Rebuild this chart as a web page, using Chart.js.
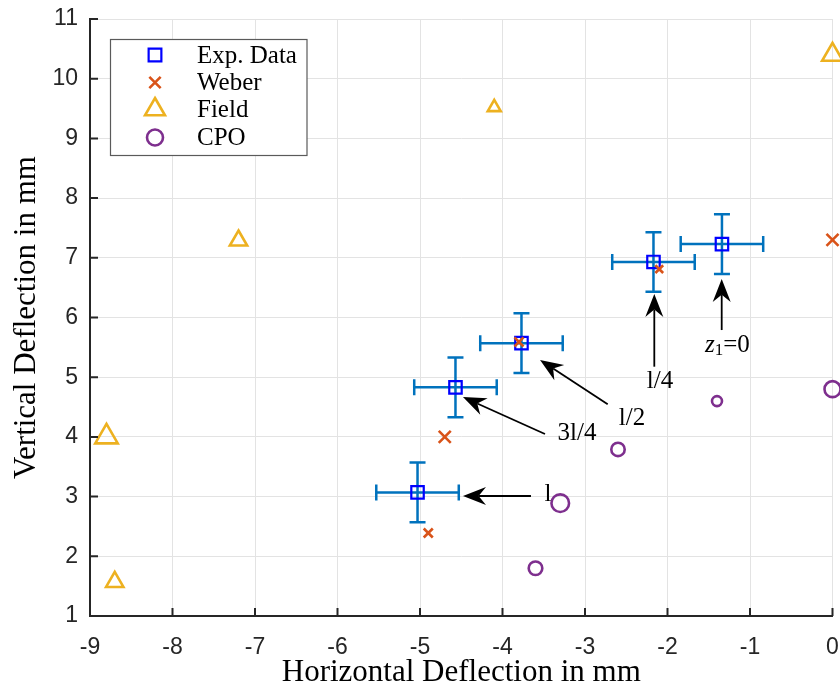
<!DOCTYPE html>
<html>
<head>
<meta charset="utf-8">
<script src="https://cdn.jsdelivr.net/npm/chart.js@4.4.1/dist/chart.umd.min.js"></script>
<style>
  html, body { margin: 0; padding: 0; background: #fff; }
</style>
</head>
<body>
<canvas id="deflection" width="840" height="691"></canvas>
<script>
// points ordered z1=0, l/4, l/2, 3l/4, l
const expX = [-1.34, -2.17, -3.77, -4.57, -5.03];
const expY = [7.23, 6.93, 5.57, 4.83, 3.07];
const expErrX = [0.5, 0.5, 0.5, 0.5, 0.5];
const expErrY = [0.5, 0.5, 0.5, 0.5, 0.5];

const weberX = [0, -2.10, -3.80, -4.70, -4.90];
const weberY = [7.30, 6.81, 5.59, 4.00, 2.39];

const fieldX = [0, -4.10, -7.20, -8.80, -8.70];
const fieldY = [10.40, 9.52, 7.29, 4.00, 1.57];

const cpoX = [0, -1.40, -2.60, -3.30, -3.60];
const cpoY = [4.80, 4.60, 3.79, 2.89, 1.80];

const xTicks = [-9, -8, -7, -6, -5, -4, -3, -2, -1, 0];
const yTicks = [1, 2, 3, 4, 5, 6, 7, 8, 9, 10, 11];

// marker sizes (style only)
const weberRadius = [8.5, 5.5, 6.4, 8.5, 6.4];
const fieldRadius = [12, 7.5, 10, 13, 10];
const cpoRadius = [8, 5, 6.7, 8.8, 6.8];

// arrow annotations in data units: tail, tip, label position
const notes = [
  { text: 'z1=0', tail: [-1.343, 5.79], tip: [-1.343, 6.645], at: [-1.275, 5.54] },
  { text: 'l/4', tail: [-2.16, 5.176], tip: [-2.16, 6.394], at: [-2.091, 4.925] },
  { text: 'l/2', tail: [-2.725, 4.546], tip: [-3.545, 5.288], at: [-2.43, 4.317] },
  { text: '3l/4', tail: [-3.485, 4.049], tip: [-4.479, 4.668], at: [-3.097, 4.065] },
  { text: 'l', tail: [-3.655, 3.01], tip: [-4.479, 3.01], at: [-3.448, 3.044] }
];

const serif = '"Liberation Serif", "DejaVu Serif", serif';
const sans = '"Liberation Sans", Arial, sans-serif';
const axisColor = '#262626';

function toPoints(xs, ys) {
  return xs.map((x, i) => ({ x: x, y: ys[i] }));
}

function noScalePadding(s) {
  s.paddingLeft = 0; s.paddingRight = 0; s.paddingTop = 0; s.paddingBottom = 0;
}

const errorBars = {
  id: 'errorBars',
  beforeDatasetsDraw(chart) {
    const c = chart.ctx;
    const sx = chart.scales.x, sy = chart.scales.y;
    const cap = 8;
    c.save();
    c.strokeStyle = '#0072bd';
    c.lineWidth = 2.5;
    expX.forEach((x, i) => {
      const px = sx.getPixelForValue(x), py = sy.getPixelForValue(expY[i]);
      const x0 = sx.getPixelForValue(x - expErrX[i]), x1 = sx.getPixelForValue(x + expErrX[i]);
      const y0 = sy.getPixelForValue(expY[i] - expErrY[i]), y1 = sy.getPixelForValue(expY[i] + expErrY[i]);
      c.beginPath();
      c.moveTo(x0, py); c.lineTo(x1, py);
      c.moveTo(x0, py - cap); c.lineTo(x0, py + cap);
      c.moveTo(x1, py - cap); c.lineTo(x1, py + cap);
      c.moveTo(px, y0); c.lineTo(px, y1);
      c.moveTo(px - cap, y0); c.lineTo(px + cap, y0);
      c.moveTo(px - cap, y1); c.lineTo(px + cap, y1);
      c.stroke();
    });
    c.restore();
  }
};

// inward tick marks, like the original figure
const innerTicks = {
  id: 'innerTicks',
  afterDraw(chart) {
    const c = chart.ctx;
    const sx = chart.scales.x, sy = chart.scales.y;
    const a = chart.chartArea;
    const len = 8;
    c.save();
    c.strokeStyle = axisColor;
    c.lineWidth = 2;
    c.beginPath();
    sx.ticks.forEach(t => {
      const p = sx.getPixelForValue(t.value);
      c.moveTo(p, a.bottom); c.lineTo(p, a.bottom - len);
    });
    sy.ticks.forEach(t => {
      const p = sy.getPixelForValue(t.value);
      c.moveTo(a.left, p); c.lineTo(a.left + len, p);
    });
    c.stroke();
    c.restore();
  }
};

function drawArrow(c, x0, y0, x1, y1) {
  const dx = x1 - x0, dy = y1 - y0;
  const d = Math.hypot(dx, dy);
  const ux = dx / d, uy = dy / d;
  const nx = -uy, ny = ux;
  const L = 23, W = 9, back = 0.68;
  const bx = x1 - ux * L * back, by = y1 - uy * L * back;
  c.beginPath();
  c.moveTo(x0, y0); c.lineTo(bx, by);
  c.stroke();
  c.beginPath();
  c.moveTo(x1, y1);
  c.lineTo(x1 - ux * L + nx * W, y1 - uy * L + ny * W);
  c.lineTo(bx, by);
  c.lineTo(x1 - ux * L - nx * W, y1 - uy * L - ny * W);
  c.closePath();
  c.fill();
}

const annotations = {
  id: 'annotations',
  afterDraw(chart) {
    const c = chart.ctx;
    const sx = chart.scales.x, sy = chart.scales.y;
    c.save();
    c.strokeStyle = '#000';
    c.fillStyle = '#000';
    c.lineWidth = 1.8;
    notes.forEach(n => {
      drawArrow(c, sx.getPixelForValue(n.tail[0]), sy.getPixelForValue(n.tail[1]),
        sx.getPixelForValue(n.tip[0]), sy.getPixelForValue(n.tip[1]));
      const lx = sx.getPixelForValue(n.at[0]), ly = sy.getPixelForValue(n.at[1]);
      c.textBaseline = 'middle';
      if (n.text === 'z1=0') {
        const parts = [
          { s: 'z', f: 'italic 25px ' + serif, dy: 0 },
          { s: '1', f: '17px ' + serif, dy: 6 },
          { s: '=0', f: '25px ' + serif, dy: 0 }
        ];
        let w = 0;
        parts.forEach(p => { c.font = p.f; p.w = c.measureText(p.s).width; w += p.w; });
        let x = lx - w / 2;
        c.textAlign = 'left';
        parts.forEach(p => { c.font = p.f; c.fillText(p.s, x, ly + p.dy); x += p.w; });
      } else {
        c.font = '25px ' + serif;
        c.textAlign = 'center';
        c.fillText(n.text, lx, ly);
      }
    });
    c.restore();
  }
};

const boxLegend = {
  id: 'boxLegend',
  afterDraw(chart) {
    const c = chart.ctx;
    const box = { x: 110.5, y: 39.5, w: 196.5, h: 116 };
    const rows = [55, 82.5, 109.5, 137.5];
    const sizes = [9, 8, 11.5, 8];
    c.save();
    c.fillStyle = '#fff';
    c.fillRect(box.x, box.y, box.w, box.h);
    c.strokeStyle = '#5a5a5a';
    c.lineWidth = 1.2;
    c.strokeRect(box.x, box.y, box.w, box.h);
    chart.data.datasets.forEach((ds, i) => {
      c.strokeStyle = ds.borderColor;
      c.fillStyle = 'rgba(0,0,0,0)';
      c.lineWidth = ds.pointBorderWidth;
      Chart.helpers.drawPoint(c, { pointStyle: ds.pointStyle, radius: sizes[i], borderWidth: ds.pointBorderWidth, rotation: 0 }, 155, rows[i]);
      c.fillStyle = '#000';
      c.font = '25px ' + serif;
      c.textAlign = 'left';
      c.textBaseline = 'middle';
      c.fillText(ds.label, 197, rows[i] + 1);
    });
    c.restore();
  }
};

new Chart(document.getElementById('deflection'), {
  type: 'scatter',
  data: {
    datasets: [
      {
        label: 'Exp. Data', data: toPoints(expX, expY),
        pointStyle: 'rect', pointRadius: 8.8, pointBorderWidth: 2.2,
        borderColor: '#0000ff', backgroundColor: 'rgba(0,0,0,0)', order: 4, clip: false
      },
      {
        label: 'Weber', data: toPoints(weberX, weberY),
        pointStyle: 'crossRot', pointRadius: weberRadius, pointBorderWidth: 2.6,
        borderColor: '#d95319', backgroundColor: 'rgba(0,0,0,0)', order: 3, clip: false
      },
      {
        label: 'Field', data: toPoints(fieldX, fieldY),
        pointStyle: 'triangle', pointRadius: fieldRadius, pointBorderWidth: 2.6,
        borderColor: '#edb120', backgroundColor: 'rgba(0,0,0,0)', order: 2, clip: false
      },
      {
        label: 'CPO', data: toPoints(cpoX, cpoY),
        pointStyle: 'circle', pointRadius: cpoRadius, pointBorderWidth: 2.6,
        borderColor: '#7e2f8e', backgroundColor: 'rgba(0,0,0,0)', order: 1, clip: false
      }
    ]
  },
  options: {
    responsive: false,
    animation: false,
    events: [],
    layout: { autoPadding: false, padding: { left: 0, right: 7.5, top: 19, bottom: 0 } },
    plugins: {
      legend: { display: false },
      tooltip: { enabled: false }
    },
    scales: {
      x: {
        type: 'linear', min: -9, max: 0,
        afterBuildTicks: s => { s.ticks = xTicks.map(v => ({ value: v })); },
        afterFit: s => { s.height = 75; noScalePadding(s); },
        ticks: { font: { family: sans, size: 23 }, color: axisColor, padding: 18 },
        grid: { color: '#e3e3e3', lineWidth: 1, drawTicks: false },
        border: { color: axisColor, width: 2 },
        title: {
          display: true, text: 'Horizontal Deflection in mm',
          font: { family: serif, size: 31 }, color: '#000', padding: { top: 0, bottom: 0 }
        }
      },
      y: {
        type: 'linear', min: 1, max: 11,
        afterBuildTicks: s => { s.ticks = yTicks.map(v => ({ value: v })); },
        afterFit: s => { s.width = 90; noScalePadding(s); },
        ticks: { font: { family: sans, size: 23 }, color: axisColor, padding: 12 },
        grid: { color: '#e3e3e3', lineWidth: 1, drawTicks: false },
        border: { color: axisColor, width: 2 },
        title: {
          display: true, text: 'Vertical Deflection in mm',
          font: { family: serif, size: 31 }, color: '#000', padding: { top: 8, bottom: 0 }
        }
      }
    }
  },
  plugins: [errorBars, innerTicks, annotations, boxLegend]
});
</script>
</body>
</html>
